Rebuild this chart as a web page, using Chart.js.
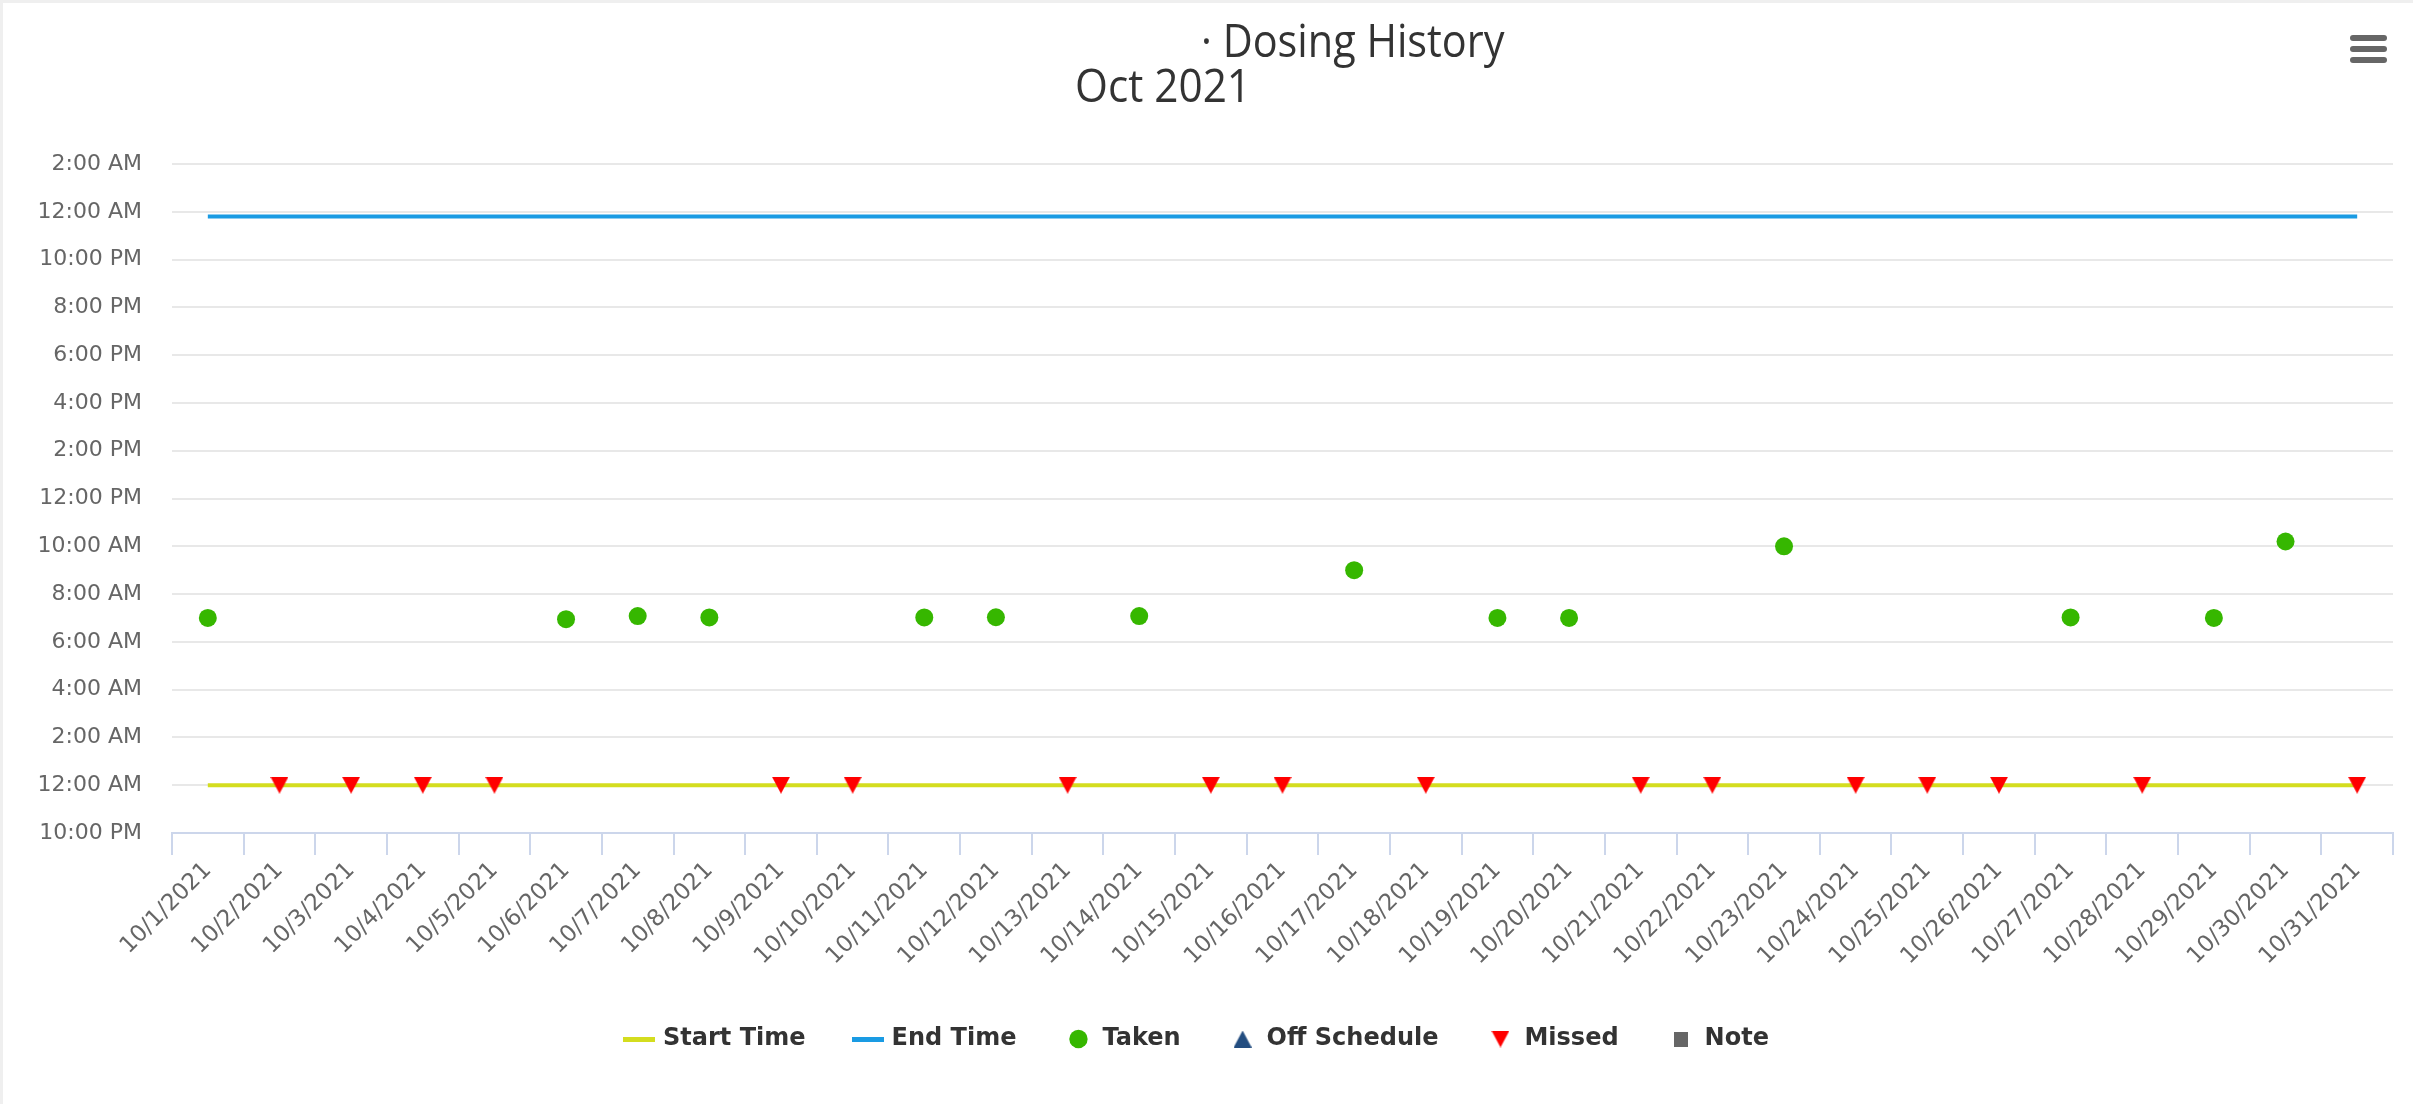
<!DOCTYPE html>
<html>
<head>
<meta charset="utf-8">
<title>Dosing History</title>
<script src="https://cdn.jsdelivr.net/npm/chart.js@4.4.0/dist/chart.umd.min.js"></script>
<style>
    html, body { margin: 0; padding: 0; background: #fff; }
    #wrap {
        position: absolute; left: 0; top: 0;
        width: 2410px; height: 1101px;
        border-top: 3px solid #efefef; border-left: 3px solid #efefef;
        background: #fff;
    }
    canvas { display: block; }
</style>
</head>
<body>
<div id="wrap"><canvas id="dosingChart" width="2410" height="1101"></canvas></div>
<script>
// --- Data (times in hours after midnight of each day) ---
const days = [
    '10/1/2021', '10/2/2021', '10/3/2021', '10/4/2021', '10/5/2021', '10/6/2021', '10/7/2021', '10/8/2021',
    '10/9/2021', '10/10/2021', '10/11/2021', '10/12/2021', '10/13/2021', '10/14/2021', '10/15/2021', '10/16/2021',
    '10/17/2021', '10/18/2021', '10/19/2021', '10/20/2021', '10/21/2021', '10/22/2021', '10/23/2021', '10/24/2021',
    '10/25/2021', '10/26/2021', '10/27/2021', '10/28/2021', '10/29/2021', '10/30/2021', '10/31/2021'
];

const startTime = [0, 0, 0, 0, 0, 0, 0, 0, 0, 0, 0, 0, 0, 0, 0, 0, 0, 0, 0, 0, 0, 0, 0, 0, 0, 0, 0, 0, 0, 0, 0];

const endTime = [
    23.8, 23.8, 23.8, 23.8, 23.8, 23.8, 23.8, 23.8, 23.8, 23.8, 23.8, 23.8, 23.8, 23.8, 23.8, 23.8,
    23.8, 23.8, 23.8, 23.8, 23.8, 23.8, 23.8, 23.8, 23.8, 23.8, 23.8, 23.8, 23.8, 23.8, 23.8
];

const takenTime = [
    7.0, null, null, null, null, 6.95, 7.08, 7.02, null, null, 7.02, 7.03, null, 7.08, null, null,
    9.0, null, 7.0, 7.0, null, null, 10.0, null, null, null, 7.02, null, 7.0, 10.2, null
];

const missedTime = [
    null, 0, 0, 0, 0, null, null, null, 0, 0, null, null, 0, null, 0, 0,
    null, 0, null, null, 0, 0, null, 0, 0, 0, null, 0, null, null, 0
];

const offScheduleTime = [];
const noteTime = [];

const yMin = -2;
const yMax = 26;
const yStep = 2;

const titleText = '\u00b7 Dosing History';
const subtitleText = 'Oct 2021';

// --- Helpers ---
function formatHour(value) {
    const h = ((value % 24) + 24) % 24;
    const h12 = h % 12 === 0 ? 12 : h % 12;
    return h12 + ':00 ' + (h < 12 ? 'AM' : 'PM');
}

function makeSwatch(color) {
    const c = document.createElement('canvas');
    c.width = 32;
    c.height = 5;
    const cx = c.getContext('2d');
    cx.fillStyle = color;
    cx.fillRect(0, 0, 32, 5);
    return c;
}

// triangle marker drawn centred in its own box, so it sits on the line like the original
function makeTriangle(color, down) {
    const c = document.createElement('canvas');
    c.width = 18;
    c.height = 17;
    const cx = c.getContext('2d');
    cx.fillStyle = color;
    cx.beginPath();
    if (down) {
        cx.moveTo(0, 0); cx.lineTo(18, 0); cx.lineTo(9, 17);
    } else {
        cx.moveTo(9, 0); cx.lineTo(18, 17); cx.lineTo(0, 17);
    }
    cx.closePath();
    cx.fill();
    return c;
}

function makeSquare(color) {
    const c = document.createElement('canvas');
    c.width = 14;
    c.height = 15;
    const cx = c.getContext('2d');
    cx.fillStyle = color;
    cx.fillRect(0, 0, 14, 15);
    return c;
}

// title, subtitle and the export menu icon
const decorPlugin = {
    id: 'decor',
    afterDraw(chart) {
        const ctx = chart.ctx;
        ctx.save();
        ctx.fillStyle = '#333333';
        ctx.font = '46px "Open Sans", sans-serif';
        ctx.textBaseline = 'alphabetic';
        ctx.textAlign = 'left';

        ctx.save();
        ctx.translate(1198, 54);
        ctx.scale(0.9, 1);
        ctx.fillText(titleText, 0, 0);
        ctx.restore();

        ctx.save();
        ctx.translate(1072, 99);
        ctx.scale(0.92, 1);
        ctx.fillText(subtitleText, 0, 0);
        ctx.restore();

        ctx.fillStyle = '#666666';
        [32, 43, 54].forEach(y => {
            ctx.beginPath();
            ctx.roundRect(2347, y, 37, 6, 3);
            ctx.fill();
        });
        ctx.restore();
    }
};

// --- Chart ---
const ctx = document.getElementById('dosingChart').getContext('2d');
window.dosingChart = new Chart(ctx, {
    type: 'line',
    data: {
        labels: days,
        datasets: [
            {
                label: 'Start Time', data: startTime, order: 10,
                borderColor: '#d4dd1f', backgroundColor: '#d4dd1f', borderWidth: 4,
                pointRadius: 0, pointHoverRadius: 0, legendSwatch: true
            },
            {
                label: 'End Time', data: endTime, order: 10,
                borderColor: '#1a9be3', backgroundColor: '#1a9be3', borderWidth: 4,
                pointRadius: 0, pointHoverRadius: 0, legendSwatch: true
            },
            {
                label: 'Taken', data: takenTime, showLine: false,
                pointStyle: 'circle', pointRadius: 9, pointHoverRadius: 9, pointBorderWidth: 0,
                borderColor: '#36b700', backgroundColor: '#36b700'
            },
            {
                label: 'Off Schedule', data: offScheduleTime, showLine: false,
                pointStyle: makeTriangle('#234d80', false), pointRadius: 9, pointBorderWidth: 0,
                borderColor: '#234d80', backgroundColor: '#234d80'
            },
            {
                label: 'Missed', data: missedTime, showLine: false,
                pointStyle: makeTriangle('#ff0000', true), pointRadius: 9, pointHoverRadius: 9, pointBorderWidth: 0,
                borderColor: '#ff0000', backgroundColor: '#ff0000'
            },
            {
                label: 'Note', data: noteTime, showLine: false,
                pointStyle: makeSquare('#666666'), pointRadius: 9, pointBorderWidth: 0,
                borderColor: '#666666', backgroundColor: '#666666'
            }
        ]
    },
    options: {
        responsive: false,
        animation: false,
        devicePixelRatio: 1,
        layout: { padding: { top: 161, right: 20, bottom: 43, left: 0 } },
        scales: {
            x: {
                offset: true,
                grid: {
                    offset: true, drawOnChartArea: false, drawTicks: true,
                    tickLength: 22, color: '#ccd6eb', lineWidth: 2
                },
                border: { color: '#ccd6eb', width: 2 },
                ticks: {
                    autoSkip: false, minRotation: 45, maxRotation: 45, padding: 2,
                    color: '#666666', font: { family: '"DejaVu Sans"', size: 23 }
                },
                afterFit(scale) { scale.height = 144; }
            },
            y: {
                min: yMin, max: yMax,
                grid: { color: '#e8e8e8', lineWidth: 2, drawTicks: false },
                border: { display: false },
                ticks: {
                    stepSize: yStep, padding: 30,
                    color: '#666666', font: { family: '"DejaVu Sans"', size: 22 },
                    callback: value => formatHour(value)
                },
                afterFit(scale) { scale.width = 169; }
            }
        },
        plugins: {
            title: { display: false },
            tooltip: { enabled: false },
            legend: {
                position: 'bottom',
                labels: {
                    usePointStyle: true, boxWidth: 28, boxHeight: 13, padding: 50,
                    color: '#333333', font: { family: '"DejaVu Sans"', size: 24, weight: 'bold' },
                    sort: (a, b) => a.datasetIndex - b.datasetIndex,
                    generateLabels(chart) {
                        const items = Chart.defaults.plugins.legend.labels.generateLabels(chart);
                        items.forEach(item => {
                            const ds = chart.data.datasets[item.datasetIndex];
                            if (ds.legendSwatch) item.pointStyle = makeSwatch(ds.borderColor);
                        });
                        return items;
                    }
                }
            }
        }
    },
    plugins: [decorPlugin]
});
</script>
</body>
</html>
